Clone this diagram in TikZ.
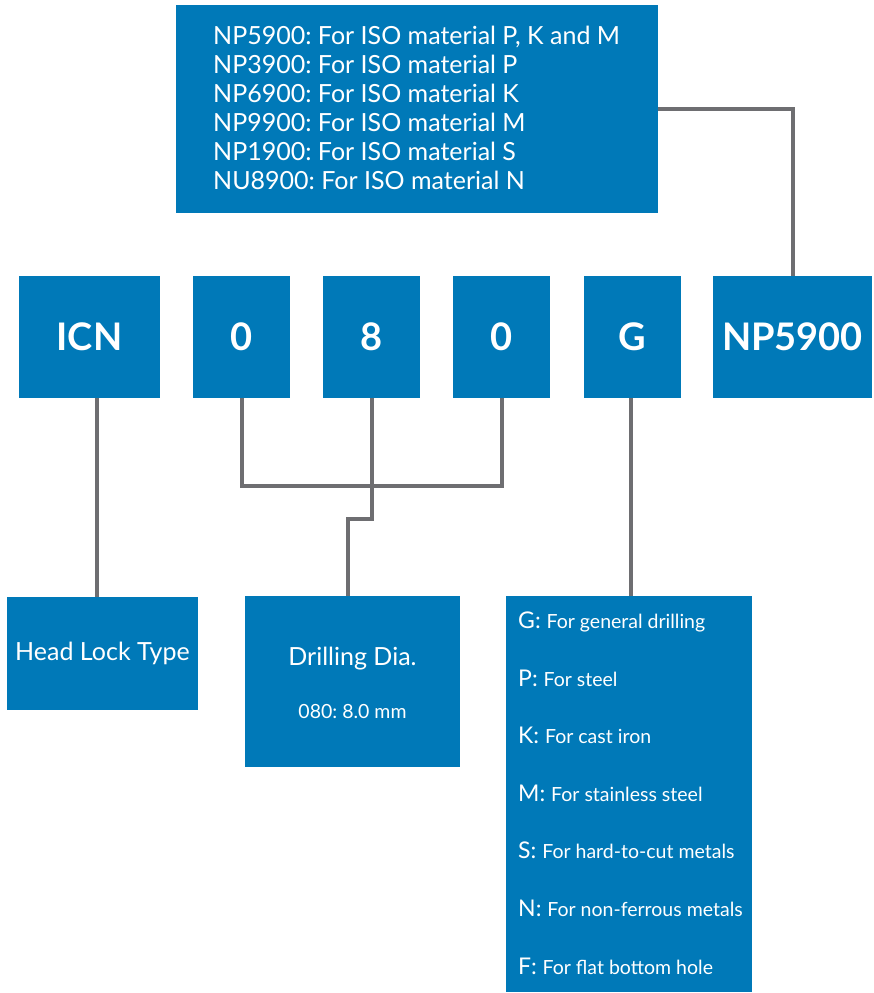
\documentclass[tikz,border=0pt]{standalone}
\usepackage{fontspec}
\setmainfont{Lato}
\frenchspacing
\definecolor{boxblue}{RGB}{0,121,184}
\definecolor{linegray}{RGB}{110,110,113}
\begin{document}
\begin{tikzpicture}[x=1pt,y=-1pt,
  box/.style={fill=boxblue,inner sep=0pt,text=white},
  code/.style={box,font=\fontsize{38}{40}\selectfont\bfseries,minimum height=122pt},
  conn/.style={draw=linegray,line width=4pt},
  txt/.style={text=white,inner sep=0pt}]
\useasboundingbox (0,0) rectangle (873,993);
% top box
\node[box,minimum width=482pt,minimum height=208pt] (top) at (417,109) {};
\node[txt,anchor=west,align=left,font=\fontsize{25}{29}\selectfont\frenchspacing] (toptxt) at (213,108)
 {NP5900: For ISO material P, K and M\\NP3900: For ISO material P\\NP6900: For ISO material K\\NP9900: For ISO material M\\NP1900: For ISO material S\\NU8900: For ISO material N};
% code boxes
\node[code,minimum width=141pt] (icn) at (89.5,337) {ICN};
\node[code,minimum width=97pt] (za) at (241.5,337) {0};
\node[code,minimum width=97pt] (ei) at (371.5,337) {8};
\node[code,minimum width=97pt] (zb) at (501.5,337) {0};
\node[code,minimum width=97pt] (g) at (632.5,337) {G};
\node[code,minimum width=159pt] (np) at (792.5,337) {NP5900};
% bottom boxes
\node[box,minimum width=191pt,minimum height=113pt,font=\fontsize{25}{28}\selectfont] (hl) at (102.5,653.5) {Head Lock Type};
\node[box,minimum width=215pt,minimum height=171pt] (dd) at (352.5,681.5) {};
\node[txt,font=\fontsize{25}{28}\selectfont] (ddt) at (352.5,659) {Drilling Dia.};
\node[txt,font=\fontsize{19.5}{22}\selectfont\frenchspacing] (dds) at (352.5,712) {080: 8.0 mm};
\node[box,minimum width=246pt,minimum height=396pt] (gl) at (629,794) {};
\foreach \k/\t [count=\i from 0] in {G/For general drilling,P/For steel,K/For cast iron,M/For stainless steel,S/For hard-to-cut metals,N/For non-ferrous metals,F/For flat bottom hole}{
  \node[txt,anchor=base west] (gl\i) at (518,628.5+57.6*\i) {\fontsize{23}{26}\selectfont\k:\ \fontsize{19.5}{22}\selectfont\t};
}
% connectors
\draw[conn] (np.north) |- (top.east);
\draw[conn] ([xshift=7.5pt]icn.south) -- ([xshift=7.5pt]icn.south |- hl.north);
\coordinate (jn) at (371.5,485.5);
\draw[conn] (za.south) |- (jn) -| (zb.south);
\coordinate (st) at (348,518.5);
\draw[conn] (ei.south) -- (ei.south |- st) -- (st) -- (st |- dd.north);
\draw[conn] ([xshift=-1.5pt]g.south) -- ([xshift=-1.5pt]g.south |- gl.north);
\end{tikzpicture}
\end{document}
